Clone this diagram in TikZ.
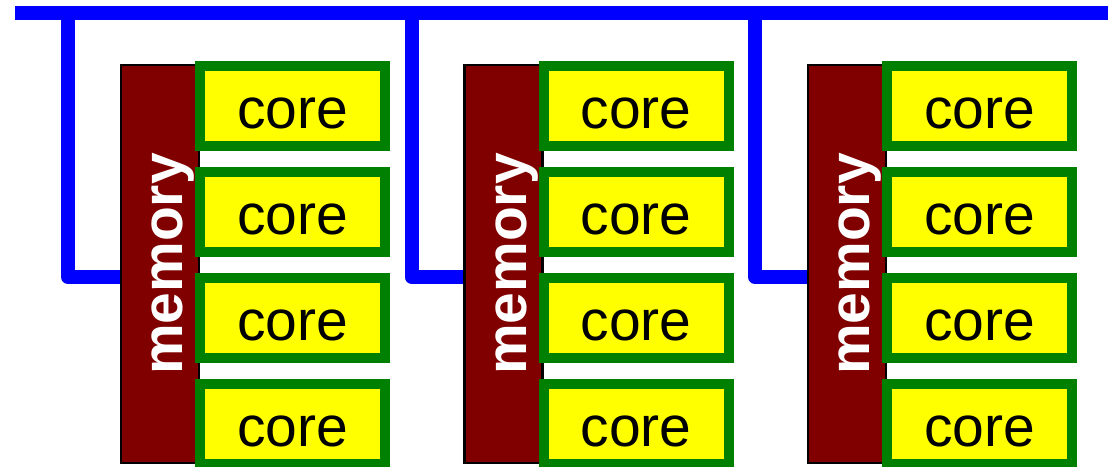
\documentclass[tikz,border=0pt]{standalone}
\usepackage{fontspec}
\setmainfont{Liberation Sans}
\definecolor{busblue}{RGB}{0,0,255}
\definecolor{memred}{RGB}{128,0,0}
\definecolor{coregreen}{RGB}{0,128,0}
\definecolor{coreyellow}{RGB}{255,255,0}
\begin{document}
\begin{tikzpicture}[x=1pt,y=-1pt,
  bus/.style={draw=busblue,line width=14pt,line join=round},
  mem/.style={draw=black,fill=memred,line width=2.5pt,minimum width=78pt,minimum height=398pt,inner sep=0pt,text=white,font=\fontsize{57}{68}\selectfont\bfseries},
  corebox/.style={draw=coregreen,fill=coreyellow,line width=10pt,minimum width=185pt,minimum height=80pt,inner sep=0pt,text=black,font=\fontsize{57}{68}\selectfont,text height=44pt,text depth=0pt}]
\useasboundingbox (0,0) rectangle (1108,466);
\coordinate (busL) at (15,13);
\coordinate (busR) at (1110,13);
\draw[bus] (busL) -- (busR);
\foreach \i in {0,1,2}{
  \pgfmathsetmacro{\dx}{343.5*\i}
  \coordinate (t\i) at (68+\dx,13);
  \coordinate (j\i) at (122+\dx,277);
  \draw[bus] (t\i) |- (j\i);
  \node[mem] (m\i) at (160+\dx,264) {\rotatebox{90}{\rule{0pt}{57pt}memory}};
  \foreach \r in {0,1,2,3}{
    \node[corebox] (c\i-\r) at (292.5+\dx,106+106*\r) {core};
  }
}
\end{tikzpicture}
\end{document}
